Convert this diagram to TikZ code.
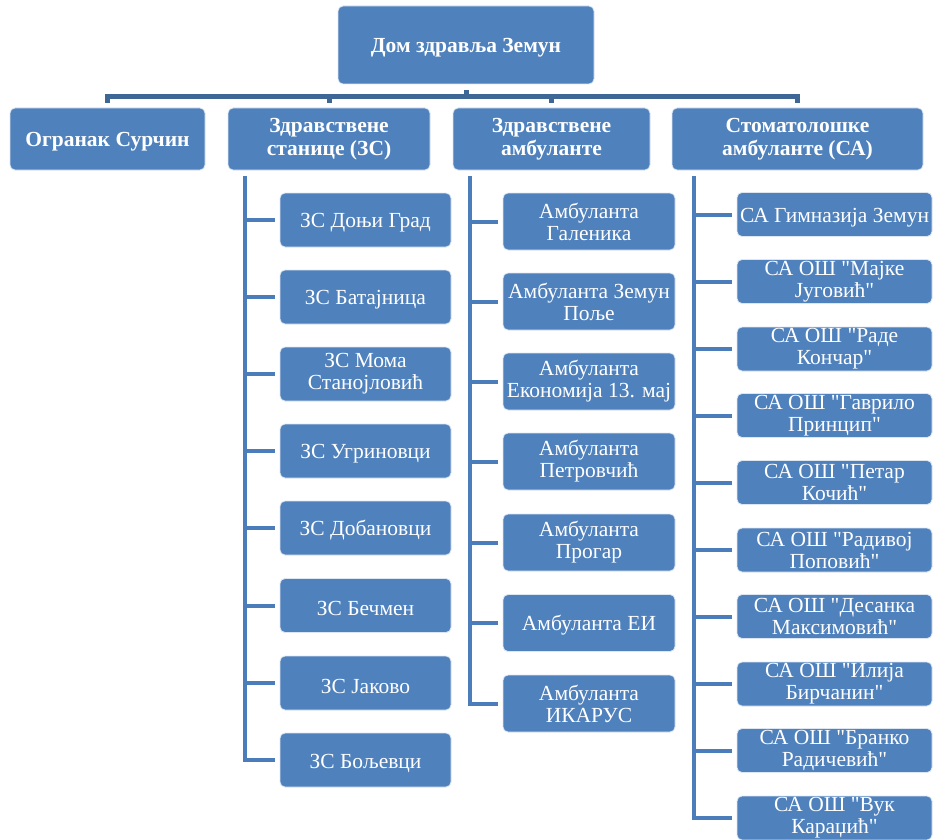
\documentclass[tikz,border=0pt]{standalone}
\usepackage{fontspec}
\setmainfont{Liberation Serif}[Ligatures=TeXOff]
\usetikzlibrary{calc}
\definecolor{boxblue}{HTML}{4F81BD}
\definecolor{boxedge}{HTML}{DCE6F2}
\definecolor{linkblue}{HTML}{4A7DBA}
\definecolor{barblue}{HTML}{3F6796}
\tikzset{
  box/.style={rectangle, rounded corners=5pt, fill=boxblue, draw=boxedge, line width=0.8pt,
    text=white, align=center, inner sep=1pt,
    execute at begin node={\rule{0pt}{20.5pt}}},
  head/.style={box, font=\fontsize{21.5}{23}\bfseries\selectfont},
  kid/.style={box, font=\fontsize{21.5}{22}\selectfont},
  conn/.style={draw=linkblue, line width=4pt},
  barconn/.style={draw=barblue, line width=5pt},
}
\begin{document}
\begin{tikzpicture}[x=1pt,y=-1pt]
\useasboundingbox (0,0) rectangle (934,840);
% top
\node[head, minimum width=256pt, minimum height=78pt] (top) at (466,45) {Дом здравља Земун};
% level 1
\node[head, minimum width=195pt, minimum height=62pt] (sur) at (107.5,139) {Огранак Сурчин};
\node[head, minimum width=202pt, minimum height=62pt] (zs) at (329,139) {Здравствене\\станице (ЗС)};
\node[head, minimum width=197pt, minimum height=62pt] (amb) at (551.5,139) {Здравствене\\амбуланте};
\node[head, minimum width=251pt, minimum height=62pt] (sa) at (797.5,139) {Стоматолошке\\амбуланте (СА)};
% ZS column
\tikzset{zsk/.style={kid, minimum width=171pt, minimum height=54pt}}
\node[zsk] (z1) at (365.5,220) {ЗС Доњи Град};
\node[zsk] (z2) at (365.5,297) {ЗС Батајница};
\node[zsk] (z3) at (365.5,374) {ЗС Мома\\Станојловић};
\node[zsk] (z4) at (365.5,451) {ЗС Угриновци};
\node[zsk] (z5) at (365.5,528) {ЗС Добановци};
\node[zsk] (z6) at (365.5,605.5) {ЗС Бечмен};
\node[zsk] (z7) at (365.5,683) {ЗС Јаково};
\node[zsk] (z8) at (365.5,760) {ЗС Бољевци};
% Amb column
\tikzset{amk/.style={kid, minimum width=172pt, minimum height=57pt}}
\node[amk] (a1) at (589,221.5) {Амбуланта\\Галеника};
\node[amk] (a2) at (589,301.5) {Амбуланта Земун\\Поље};
\node[amk] (a3) at (589,381.5) {Амбуланта\\Економија 13. мај};
\node[amk] (a4) at (589,461.5) {Амбуланта\\Петровчић};
\node[amk] (a5) at (589,542.5) {Амбуланта\\Прогар};
\node[amk] (a6) at (589,623) {Амбуланта ЕИ};
\node[amk] (a7) at (589,703.5) {Амбуланта\\ИКАРУС};
% SA column
\tikzset{sak/.style={kid, minimum width=195pt, minimum height=44pt}}
\node[sak] (s1) at (834.5,214.5) {СА Гимназија Земун};
\node[sak] (s2) at (834.5,281.5) {СА ОШ "Мајке\\Југовић"};
\node[sak] (s3) at (834.5,349) {СА ОШ "Раде\\Кончар"};
\node[sak] (s4) at (834.5,415.5) {СА ОШ "Гаврило\\Принцип"};
\node[sak] (s5) at (834.5,482.5) {СА ОШ "Петар\\Кочић"};
\node[sak] (s6) at (834.5,550) {СА ОШ "Радивој\\Поповић"};
\node[sak] (s7) at (834.5,616.5) {СА ОШ "Десанка\\Максимовић"};
\node[sak] (s8) at (834.5,684) {СА ОШ "Илија\\Бирчанин"};
\node[sak] (s9) at (834.5,750.5) {СА ОШ "Бранко\\Радичевић"};
\node[sak] (s10) at (834.5,818) {СА ОШ "Вук\\Караџић"};
% top connectors
\coordinate (bar) at ([yshift=-12pt]top.south);
\draw[barconn] ([yshift=-6pt]top.south) -- (bar);
\draw[barconn] ([yshift=5pt]sur.north) |- (bar) -| ([yshift=5pt]sa.north);
\draw[barconn] ([yshift=5pt]zs.north) -- (zs.north |- bar);
\draw[barconn] ([yshift=5pt]amb.north) -- (amb.north |- bar);
% ZS connectors
\coordinate (zsx) at ([xshift=17pt,yshift=-6pt]zs.south west);
\draw[conn] (zsx) |- ([xshift=-5pt]z8.west);
\foreach \n in {z1,z2,z3,z4,z5,z6,z7}{\draw[conn] (zsx |- \n.west) -- ([xshift=-5pt]\n.west);}
% Amb connectors
\coordinate (amx) at ([xshift=17pt,yshift=-6pt]amb.south west);
\draw[conn] (amx) |- ([xshift=-5pt]a7.west);
\foreach \n in {a1,a2,a3,a4,a5,a6}{\draw[conn] (amx |- \n.west) -- ([xshift=-5pt]\n.west);}
% SA connectors
\coordinate (sax) at ([xshift=22pt,yshift=-6pt]sa.south west);
\draw[conn] (sax) |- ([xshift=-5pt]s10.west);
\foreach \n in {s1,s2,s3,s4,s5,s6,s7,s8,s9}{\draw[conn] (sax |- \n.west) -- ([xshift=-5pt]\n.west);}
\end{tikzpicture}
\end{document}
